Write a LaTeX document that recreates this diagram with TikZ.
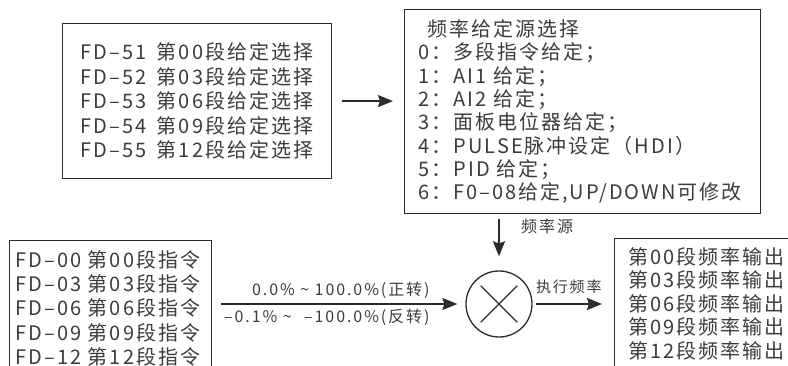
\documentclass[tikz,border=0pt]{standalone}
\usepackage{fontspec}
\setmainfont{Noto Sans CJK SC}
\newfontfamily\boxfont[LetterSpace=10]{Noto Sans CJK SC}
\newfontfamily\lblfont[LetterSpace=12]{Noto Sans CJK SC}
\usetikzlibrary{arrows.meta, calc}
\definecolor{inkgray}{HTML}{2B2B2B}
\definecolor{textgray}{HTML}{3C3C3C}

\begin{document}
\begin{tikzpicture}[x=1pt, y=-1pt,
  box/.style={draw=inkgray, line width=1.2pt, align=left, anchor=north west, inner ysep=0pt, text=textgray},
  flow/.style={draw=inkgray, line width=1.8pt, -{Stealth[length=15pt, width=12pt, inset=2pt]}},
  lbl/.style={text=textgray, font=\lblfont\fontsize{16}{18}\selectfont}
]
  \clip (0,0) rectangle (788,366);

  \node[box, text width=233pt, inner xsep=18pt, minimum height=155pt, font=\boxfont\fontsize{20}{24.5}\selectfont] (fdsel) at (62,23)
    {FD–51\hspace{4pt} 第00段给定选择\\FD–52\hspace{4pt} 第03段给定选择\\FD–53\hspace{4pt} 第06段给定选择\\FD–54\hspace{4pt} 第09段给定选择\\FD–55\hspace{4pt} 第12段给定选择};
  \node[box, text width=328pt, inner xsep=14pt, minimum height=204pt, font=\boxfont\fontsize{20}{23.3}\selectfont] (srcsel) at (404,9)
    {\hspace{9pt}频率给定源选择\\0：多段指令给定；\\1：AI1 给定；\\2：AI2 给定；\\3：面板电位器给定；\\4：PULSE脉冲设定（HDI）\\5：PID 给定；\\6：F0–08给定,UP/DOWN可修改};

  \node[box, text width=190pt, inner xsep=6pt, inner ysep=10pt, text depth=130pt, font=\boxfont\fontsize{20}{24.2}\selectfont] (fdcmd) at (9,240)
    {FD–00 第00段指令\\FD–03 第03段指令\\FD–06 第06段指令\\FD–09 第09段指令\\FD–12 第12段指令};
  \node[box, text width=170pt, inner xsep=14pt, inner ysep=9pt, text depth=130pt, font=\boxfont\fontsize{20}{23.4}\selectfont] (freqout) at (614,238)
    {第00段频率输出\\第03段频率输出\\第06段频率输出\\第09段频率输出\\第12段频率输出};

  % multiplier
  \node[draw=inkgray, circle, line width=1.3pt, minimum size=66pt, inner sep=0pt] (mul) at (499,304) {};
  \draw[inkgray, line width=1.1pt] ($(mul.center)!0.77!(mul.north west)$) -- ($(mul.center)!0.77!(mul.south east)$);
  \draw[inkgray, line width=1.1pt] ($(mul.center)!0.77!(mul.north east)$) -- ($(mul.center)!0.77!(mul.south west)$);

  \draw[flow] ([xshift=10pt]fdsel.east) -- ([xshift=-11pt]fdsel.east -| srcsel.west);
  \draw[flow] ([yshift=-5pt]srcsel.south -| mul.north) -- node[lbl, pos=0.2, anchor=west, xshift=18pt] {频率源} ([yshift=14pt]mul.north);
  \draw[flow] ([xshift=9pt]fdcmd.east |- mul.west)
    -- node[lbl, pos=0.9, anchor=south east, yshift=1pt] {0.0\% \textasciitilde{} 100.0\%(正转)}
       node[lbl, pos=0.9, anchor=north east, yshift=-1pt] {–0.1\% \textasciitilde{}\hspace{7pt} –100.0\%(反转)}
    ([xshift=-8pt]mul.west);
  \draw[flow] ([xshift=3pt]mul.east) -- node[above, yshift=6pt, text=textgray, font=\lblfont\fontsize{15}{17}\selectfont] {执行频率} ([xshift=-12pt]mul.east -| freqout.west);
\end{tikzpicture}
\end{document}
